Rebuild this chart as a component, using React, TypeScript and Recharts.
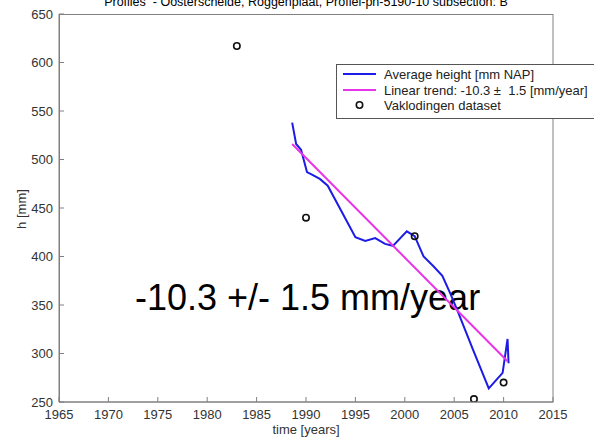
import React from 'react';
import { ComposedChart, Line, Scatter, XAxis, YAxis, CartesianGrid } from 'recharts';

// Average bed height per survey epoch [mm NAP]
const avgYears = [1988.6, 1989.0, 1989.5, 1990.1, 1990.7, 1991.4, 1992.2, 1995.0, 1996.0, 1997.0, 1998.0, 1998.8, 2000.2, 2001.0, 2001.9, 2002.9, 2003.8, 2004.6, 2005.3, 2006.9, 2008.5, 2009.9, 2010.4, 2010.5];
const avgHeights = [538, 516, 510, 487, 484, 480, 473, 420, 416, 419, 413, 411, 426, 421, 400, 390, 380, 362, 345, 304, 264, 280, 315, 290];

// Fitted linear trend (end points)
const trendYears = [1988.6, 2010.4];
const trendHeights = [516, 292];

// Vaklodingen survey points
const vakYears = [1983, 1990, 2001, 2007, 2010];
const vakHeights = [617, 440, 421, 253, 270];

const xTicks = [1965, 1970, 1975, 1980, 1985, 1990, 1995, 2000, 2005, 2010, 2015];
const yTicks = [250, 300, 350, 400, 450, 500, 550, 600, 650];

const avgData = avgYears.map((year, i) => ({ year, h: avgHeights[i] }));
const trendData = trendYears.map((year, i) => ({ year, h: trendHeights[i] }));
const vakData = vakYears.map((year, i) => ({ year, h: vakHeights[i] }));

const FONT = '"Liberation Sans", Arial, sans-serif';
const AXIS = '#808080';
const TEXT = '#333333';
const TICK_LEN = 5;
const M = 8;

// plot box (chart margins + axis sizes)
const BOX = { left: 59, top: 14, right: 553, bottom: 402 };

const BottomTick = (p: any) => (
  <g>
    <line x1={p.x} x2={p.x} y1={p.y - M} y2={p.y - M - TICK_LEN} stroke={AXIS} />
    <text x={p.x} y={p.y} dy="0.71em" textAnchor="middle" fontSize={13} fill={TEXT} fontFamily={FONT}>
      {p.payload.value}
    </text>
  </g>
);

const LeftTick = (p: any) => (
  <g>
    <line x1={p.x + M} x2={p.x + M + TICK_LEN} y1={p.y} y2={p.y} stroke={AXIS} />
    <text x={p.x + 2} y={p.y} dy="0.355em" textAnchor="end" fontSize={13} fill={TEXT} fontFamily={FONT}>
      {p.payload.value}
    </text>
  </g>
);

const TopTick = (p: any) => (
  <line x1={p.x} x2={p.x} y1={p.y + M} y2={p.y + M + TICK_LEN} stroke={AXIS} />
);

const RightTick = (p: any) => (
  <line x1={p.x - M} x2={p.x - M - TICK_LEN} y1={p.y} y2={p.y} stroke={AXIS} />
);

const Ring = (p: any) => (
  <circle cx={p.cx} cy={p.cy} r={3.2} fill="none" stroke="#111" strokeWidth={1.6} />
);

export default function App() {
  return (
    <div style={{ position: 'absolute', left: 0, top: 0, width: 594, height: 438, overflow: 'hidden', background: '#fff' }}>
      {/* annotation drawn beneath the series */}
      <svg width={594} height={438} style={{ position: 'absolute', left: 0, top: 0 }}>
        <text x={135} y={310} fontSize={36} fontFamily={FONT} fill="#000">
          -10.3 +/- 1.5 mm/year
        </text>
      </svg>
      <div style={{ position: 'absolute', left: 0, top: 0 }}>
        <ComposedChart width={594} height={438} margin={{ top: BOX.top, right: 594 - BOX.right, bottom: 0, left: 0 }}>
          <CartesianGrid stroke="#e4e4e4" horizontalValues={yTicks} verticalValues={xTicks} />
          <XAxis
            xAxisId="b"
            dataKey="year"
            type="number"
            domain={[1965, 2015]}
            ticks={xTicks}
            height={438 - BOX.bottom}
            stroke={AXIS}
            tickLine={false}
            tickSize={0}
            tickMargin={M}
            tick={<BottomTick />}
            allowDataOverflow
          />
          <XAxis
            xAxisId="t"
            orientation="top"
            dataKey="year"
            type="number"
            domain={[1965, 2015]}
            ticks={xTicks}
            height={0}
            stroke={AXIS}
            tickLine={false}
            tickSize={0}
            tickMargin={M}
            tick={<TopTick />}
          />
          <YAxis
            yAxisId="l"
            dataKey="h"
            type="number"
            domain={[250, 650]}
            ticks={yTicks}
            width={BOX.left}
            stroke={AXIS}
            tickLine={false}
            tickSize={0}
            tickMargin={M}
            tick={<LeftTick />}
            allowDataOverflow
          />
          <YAxis
            yAxisId="r"
            orientation="right"
            dataKey="h"
            type="number"
            domain={[250, 650]}
            ticks={yTicks}
            width={0}
            stroke={AXIS}
            tickLine={false}
            tickSize={0}
            tickMargin={M}
            tick={<RightTick />}
          />
          <Line
            xAxisId="b"
            yAxisId="l"
            data={avgData}
            dataKey="h"
            stroke="#1c1ce6"
            strokeWidth={2}
            dot={false}
            isAnimationActive={false}
            type="linear"
          />
          <Line
            xAxisId="b"
            yAxisId="l"
            data={trendData}
            dataKey="h"
            stroke="#e833e8"
            strokeWidth={2}
            dot={false}
            isAnimationActive={false}
            type="linear"
          />
          <Scatter
            xAxisId="b"
            yAxisId="l"
            data={vakData}
            dataKey="h"
            shape={<Ring />}
            isAnimationActive={false}
          />
        </ComposedChart>
      </div>
      {/* box outline, title, axis labels and legend */}
      <svg width={594} height={438} style={{ position: 'absolute', left: 0, top: 0 }}>
        <rect
          x={BOX.left + 0.5}
          y={BOX.top + 0.5}
          width={BOX.right - BOX.left - 0.5}
          height={BOX.bottom - BOX.top - 0.5}
          fill="none"
          stroke={AXIS}
        />
        <text x={306} y={6} textAnchor="middle" fontSize={12.5} fontFamily={FONT} fill="#000" style={{ whiteSpace: 'pre' }}>
          {'Profiles  - Oosterschelde, Roggenplaat, Profiel-pn-5190-10 subsection: B'}
        </text>
        <text x={306} y={429} dy="0.355em" textAnchor="middle" fontSize={13} fontFamily={FONT} fill={TEXT}>
          time [years]
        </text>
        <text
          x={21}
          y={209}
          dy="0.355em"
          textAnchor="middle"
          fontSize={13}
          fontFamily={FONT}
          fill={TEXT}
          transform="rotate(-90 21 209)"
        >
          h [mm]
        </text>
        <g>
          <rect x={336.5} y={64.5} width={270} height={54} fill="#fff" stroke="#555" />
          <line x1={343} x2={376} y1={74} y2={74} stroke="#1c1ce6" strokeWidth={2} />
          <text x={384} y={74} dy="0.355em" fontSize={13} fontFamily={FONT} fill="#222">
            Average height [mm NAP]
          </text>
          <line x1={343} x2={376} y1={90} y2={90} stroke="#e833e8" strokeWidth={2} />
          <text x={384} y={90} dy="0.355em" fontSize={13} fontFamily={FONT} fill="#222" style={{ whiteSpace: 'pre' }}>
            {'Linear trend: -10.3 \u00b1  1.5 [mm/year]'}
          </text>
          <circle cx={359.5} cy={105} r={3.2} fill="none" stroke="#111" strokeWidth={1.6} />
          <text x={384} y={105} dy="0.355em" fontSize={13} fontFamily={FONT} fill="#222">
            Vaklodingen dataset
          </text>
        </g>
      </svg>
    </div>
  );
}
